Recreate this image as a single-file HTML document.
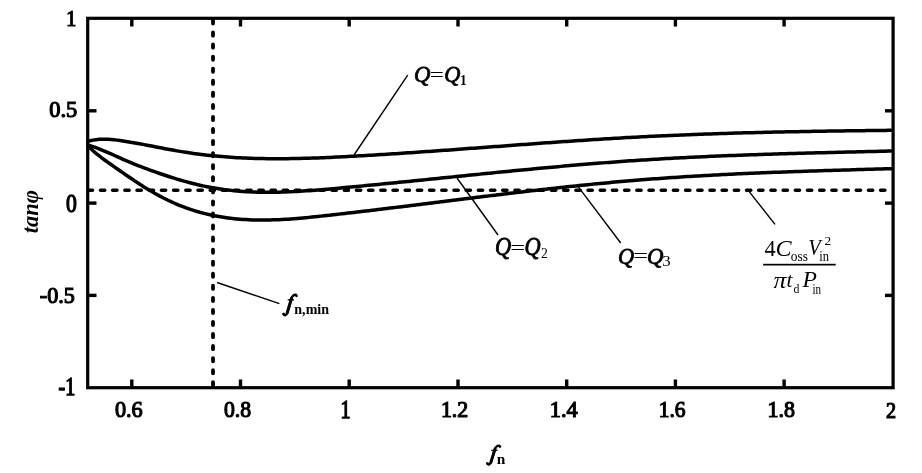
<!DOCTYPE html>
<html><head><meta charset="utf-8"><style>
html,body{margin:0;padding:0;background:#fff;}
svg{display:block;will-change:transform;}
.c{fill:none;stroke:#000;stroke-width:3.5;stroke-linejoin:round;stroke-linecap:round;}
.t{stroke:#000;stroke-width:3.4;}
.tl{font-family:"Liberation Serif",serif;font-size:25px;fill:#000;font-weight:bold;letter-spacing:-1px;}
.lab{font-family:"Liberation Serif",serif;fill:#000;}
</style></head><body>
<svg width="922" height="473" viewBox="0 0 922 473">
<rect x="0" y="0" width="922" height="473" fill="#fff"/>
<rect x="87.7" y="18.3" width="805.4" height="369.4" fill="none" stroke="#000" stroke-width="3.2"/>
<line x1="131.8" y1="19" x2="131.8" y2="26.5" class="t"/><line x1="131.8" y1="387" x2="131.8" y2="379.5" class="t"/><line x1="240.5" y1="19" x2="240.5" y2="26.5" class="t"/><line x1="240.5" y1="387" x2="240.5" y2="379.5" class="t"/><line x1="349.2" y1="19" x2="349.2" y2="26.5" class="t"/><line x1="349.2" y1="387" x2="349.2" y2="379.5" class="t"/><line x1="458.0" y1="19" x2="458.0" y2="26.5" class="t"/><line x1="458.0" y1="387" x2="458.0" y2="379.5" class="t"/><line x1="566.7" y1="19" x2="566.7" y2="26.5" class="t"/><line x1="566.7" y1="387" x2="566.7" y2="379.5" class="t"/><line x1="675.4" y1="19" x2="675.4" y2="26.5" class="t"/><line x1="675.4" y1="387" x2="675.4" y2="379.5" class="t"/><line x1="784.1" y1="19" x2="784.1" y2="26.5" class="t"/><line x1="784.1" y1="387" x2="784.1" y2="379.5" class="t"/><line x1="88" y1="110.8" x2="96.5" y2="110.8" class="t"/><line x1="893" y1="110.8" x2="885" y2="110.8" class="t"/><line x1="88" y1="203.1" x2="96.5" y2="203.1" class="t"/><line x1="893" y1="203.1" x2="885" y2="203.1" class="t"/><line x1="88" y1="295.4" x2="96.5" y2="295.4" class="t"/><line x1="893" y1="295.4" x2="885" y2="295.4" class="t"/>
<path d="M88.30,190.3h4.2M100.49,190.3h4.2M112.68,190.3h4.2M124.87,190.3h4.2M137.06,190.3h4.2M149.25,190.3h4.2M161.44,190.3h4.2M173.63,190.3h4.2M185.82,190.3h4.2M198.01,190.3h4.2M210.20,190.3h4.2M222.39,190.3h4.2M234.58,190.3h4.2M246.77,190.3h4.2M258.96,190.3h4.2M271.15,190.3h4.2M283.34,190.3h4.2M295.53,190.3h4.2M307.72,190.3h4.2M319.91,190.3h4.2M332.10,190.3h4.2M344.29,190.3h4.2M356.48,190.3h4.2M368.67,190.3h4.2M380.86,190.3h4.2M393.05,190.3h4.2M405.24,190.3h4.2M417.43,190.3h4.2M429.62,190.3h4.2M441.81,190.3h4.2M454.00,190.3h4.2M466.19,190.3h4.2M478.38,190.3h4.2M490.57,190.3h4.2M502.76,190.3h4.2M514.95,190.3h4.2M527.14,190.3h4.2M539.33,190.3h4.2M551.52,190.3h4.2M563.71,190.3h4.2M575.90,190.3h4.2M588.09,190.3h4.2M600.28,190.3h4.2M612.47,190.3h4.2M624.66,190.3h4.2M636.85,190.3h4.2M649.04,190.3h4.2M661.23,190.3h4.2M673.42,190.3h4.2M685.61,190.3h4.2M697.80,190.3h4.2M709.99,190.3h4.2M722.18,190.3h4.2M734.37,190.3h4.2M746.56,190.3h4.2M758.75,190.3h4.2M770.94,190.3h4.2M783.13,190.3h4.2M795.32,190.3h4.2M807.51,190.3h4.2M819.70,190.3h4.2M831.89,190.3h4.2M844.08,190.3h4.2M856.27,190.3h4.2M868.46,190.3h4.2M880.65,190.3h4.2" stroke="#000" stroke-width="3.6" stroke-linecap="round"/>
<path d="M213,20.40v3.2M213,32.46v3.2M213,44.52v3.2M213,56.58v3.2M213,68.64v3.2M213,80.70v3.2M213,92.76v3.2M213,104.82v3.2M213,116.88v3.2M213,128.94v3.2M213,141.00v3.2M213,153.06v3.2M213,165.12v3.2M213,177.18v3.2M213,189.24v3.2M213,201.30v3.2M213,213.36v3.2M213,225.42v3.2M213,237.48v3.2M213,249.54v3.2M213,261.60v3.2M213,273.66v3.2M213,285.72v3.2M213,297.78v3.2M213,309.84v3.2M213,321.90v3.2M213,333.96v3.2M213,346.02v3.2M213,358.08v3.2M213,370.14v3.2M213,382.20v3.2" stroke="#000" stroke-width="3.8" stroke-linecap="round"/>
<path d="M88.0,141.33 L90.0,140.79 L93.0,140.13 L96.0,139.66 L99.0,139.36 L102.0,139.21 L105.0,139.19 L108.0,139.28 L111.0,139.48 L114.0,139.77 L117.0,140.12 L120.0,140.52 L123.0,140.96 L126.0,141.43 L129.0,141.92 L132.0,142.43 L135.0,142.95 L138.0,143.49 L141.0,144.05 L144.0,144.61 L147.0,145.18 L150.0,145.76 L153.0,146.34 L156.0,146.93 L159.0,147.51 L162.0,148.09 L165.0,148.67 L168.0,149.23 L171.0,149.79 L174.0,150.34 L177.0,150.87 L180.0,151.38 L183.0,151.88 L186.0,152.35 L189.0,152.81 L192.0,153.25 L195.0,153.66 L198.0,154.06 L201.0,154.44 L204.0,154.80 L207.0,155.14 L210.0,155.46 L213.0,155.77 L216.0,156.06 L219.0,156.33 L222.0,156.59 L225.0,156.83 L228.0,157.05 L231.0,157.26 L234.0,157.45 L237.0,157.63 L240.0,157.79 L243.0,157.94 L246.0,158.07 L249.0,158.19 L252.0,158.30 L255.0,158.39 L258.0,158.47 L261.0,158.54 L264.0,158.60 L267.0,158.64 L270.0,158.68 L273.0,158.70 L276.0,158.71 L279.0,158.71 L282.0,158.70 L285.0,158.68 L288.0,158.65 L291.0,158.61 L294.0,158.56 L297.0,158.50 L300.0,158.44 L303.0,158.37 L306.0,158.28 L309.0,158.19 L312.0,158.10 L315.0,158.00 L318.0,157.89 L321.0,157.77 L324.0,157.65 L327.0,157.52 L330.0,157.39 L333.0,157.25 L336.0,157.11 L339.0,156.96 L342.0,156.81 L345.0,156.66 L348.0,156.50 L351.0,156.34 L354.0,156.17 L357.0,156.01 L360.0,155.84 L363.0,155.67 L366.0,155.49 L369.0,155.32 L372.0,155.14 L375.0,154.96 L378.0,154.78 L381.0,154.59 L384.0,154.41 L387.0,154.22 L390.0,154.03 L393.0,153.83 L396.0,153.64 L399.0,153.45 L402.0,153.25 L405.0,153.05 L408.0,152.85 L411.0,152.65 L414.0,152.44 L417.0,152.24 L420.0,152.03 L423.0,151.83 L426.0,151.62 L429.0,151.41 L432.0,151.20 L435.0,150.98 L438.0,150.77 L441.0,150.56 L444.0,150.34 L447.0,150.13 L450.0,149.91 L453.0,149.69 L456.0,149.47 L459.0,149.25 L462.0,149.04 L465.0,148.82 L468.0,148.59 L471.0,148.37 L474.0,148.15 L477.0,147.93 L480.0,147.71 L483.0,147.49 L486.0,147.26 L489.0,147.04 L492.0,146.82 L495.0,146.60 L498.0,146.38 L501.0,146.15 L504.0,145.93 L507.0,145.71 L510.0,145.49 L513.0,145.27 L516.0,145.04 L519.0,144.82 L522.0,144.60 L525.0,144.38 L528.0,144.17 L531.0,143.95 L534.0,143.73 L537.0,143.51 L540.0,143.30 L543.0,143.08 L546.0,142.87 L549.0,142.65 L552.0,142.44 L555.0,142.23 L558.0,142.02 L561.0,141.81 L564.0,141.60 L567.0,141.40 L570.0,141.19 L573.0,140.99 L576.0,140.79 L579.0,140.59 L582.0,140.39 L585.0,140.19 L588.0,139.99 L591.0,139.80 L594.0,139.61 L597.0,139.42 L600.0,139.23 L603.0,139.04 L606.0,138.86 L609.0,138.67 L612.0,138.49 L615.0,138.31 L618.0,138.14 L621.0,137.96 L624.0,137.79 L627.0,137.62 L630.0,137.46 L633.0,137.29 L636.0,137.13 L639.0,136.97 L642.0,136.81 L645.0,136.66 L648.0,136.51 L651.0,136.36 L654.0,136.21 L657.0,136.07 L660.0,135.93 L663.0,135.79 L666.0,135.65 L669.0,135.52 L672.0,135.38 L675.0,135.26 L678.0,135.13 L681.0,135.00 L684.0,134.88 L687.0,134.76 L690.0,134.64 L693.0,134.53 L696.0,134.41 L699.0,134.30 L702.0,134.19 L705.0,134.09 L708.0,133.98 L711.0,133.88 L714.0,133.78 L717.0,133.68 L720.0,133.58 L723.0,133.48 L726.0,133.39 L729.0,133.30 L732.0,133.21 L735.0,133.12 L738.0,133.03 L741.0,132.95 L744.0,132.87 L747.0,132.78 L750.0,132.70 L753.0,132.63 L756.0,132.55 L759.0,132.48 L762.0,132.40 L765.0,132.33 L768.0,132.26 L771.0,132.19 L774.0,132.12 L777.0,132.06 L780.0,131.99 L783.0,131.93 L786.0,131.87 L789.0,131.81 L792.0,131.75 L795.0,131.69 L798.0,131.63 L801.0,131.58 L804.0,131.52 L807.0,131.47 L810.0,131.42 L813.0,131.36 L816.0,131.31 L819.0,131.27 L822.0,131.22 L825.0,131.17 L828.0,131.12 L831.0,131.08 L834.0,131.03 L837.0,130.99 L840.0,130.95 L843.0,130.90 L846.0,130.86 L849.0,130.82 L852.0,130.78 L855.0,130.74 L858.0,130.70 L861.0,130.67 L864.0,130.63 L867.0,130.59 L870.0,130.55 L873.0,130.52 L876.0,130.48 L879.0,130.45 L882.0,130.41 L885.0,130.38 L888.0,130.35 L891.0,130.31" class="c"/><path d="M88.0,145.03 L90.0,145.65 L93.0,146.65 L96.0,147.72 L99.0,148.86 L102.0,150.05 L105.0,151.29 L108.0,152.57 L111.0,153.89 L114.0,155.23 L117.0,156.58 L120.0,157.94 L123.0,159.29 L126.0,160.62 L129.0,161.92 L132.0,163.18 L135.0,164.40 L138.0,165.58 L141.0,166.73 L144.0,167.85 L147.0,168.95 L150.0,170.04 L153.0,171.12 L156.0,172.18 L159.0,173.23 L162.0,174.25 L165.0,175.26 L168.0,176.25 L171.0,177.22 L174.0,178.16 L177.0,179.08 L180.0,179.98 L183.0,180.84 L186.0,181.69 L189.0,182.50 L192.0,183.28 L195.0,184.04 L198.0,184.76 L201.0,185.44 L204.0,186.10 L207.0,186.71 L210.0,187.30 L213.0,187.84 L216.0,188.35 L219.0,188.82 L222.0,189.26 L225.0,189.66 L228.0,190.04 L231.0,190.38 L234.0,190.69 L237.0,190.96 L240.0,191.21 L243.0,191.43 L246.0,191.63 L249.0,191.79 L252.0,191.93 L255.0,192.05 L258.0,192.13 L261.0,192.20 L264.0,192.24 L267.0,192.26 L270.0,192.26 L273.0,192.24 L276.0,192.20 L279.0,192.13 L282.0,192.05 L285.0,191.96 L288.0,191.84 L291.0,191.71 L294.0,191.57 L297.0,191.41 L300.0,191.24 L303.0,191.05 L306.0,190.86 L309.0,190.65 L312.0,190.43 L315.0,190.20 L318.0,189.97 L321.0,189.72 L324.0,189.47 L327.0,189.21 L330.0,188.95 L333.0,188.68 L336.0,188.41 L339.0,188.14 L342.0,187.86 L345.0,187.58 L348.0,187.30 L351.0,187.02 L354.0,186.74 L357.0,186.45 L360.0,186.17 L363.0,185.88 L366.0,185.59 L369.0,185.30 L372.0,185.01 L375.0,184.72 L378.0,184.42 L381.0,184.13 L384.0,183.83 L387.0,183.54 L390.0,183.24 L393.0,182.94 L396.0,182.64 L399.0,182.34 L402.0,182.04 L405.0,181.74 L408.0,181.44 L411.0,181.14 L414.0,180.83 L417.0,180.53 L420.0,180.23 L423.0,179.92 L426.0,179.62 L429.0,179.31 L432.0,179.01 L435.0,178.70 L438.0,178.40 L441.0,178.09 L444.0,177.78 L447.0,177.48 L450.0,177.17 L453.0,176.87 L456.0,176.56 L459.0,176.26 L462.0,175.95 L465.0,175.65 L468.0,175.34 L471.0,175.04 L474.0,174.74 L477.0,174.44 L480.0,174.13 L483.0,173.83 L486.0,173.53 L489.0,173.23 L492.0,172.93 L495.0,172.63 L498.0,172.34 L501.0,172.04 L504.0,171.74 L507.0,171.45 L510.0,171.16 L513.0,170.86 L516.0,170.57 L519.0,170.28 L522.0,169.99 L525.0,169.71 L528.0,169.42 L531.0,169.14 L534.0,168.85 L537.0,168.57 L540.0,168.29 L543.0,168.01 L546.0,167.74 L549.0,167.46 L552.0,167.19 L555.0,166.92 L558.0,166.65 L561.0,166.38 L564.0,166.11 L567.0,165.85 L570.0,165.59 L573.0,165.33 L576.0,165.07 L579.0,164.82 L582.0,164.57 L585.0,164.32 L588.0,164.07 L591.0,163.82 L594.0,163.58 L597.0,163.34 L600.0,163.10 L603.0,162.87 L606.0,162.63 L609.0,162.40 L612.0,162.18 L615.0,161.95 L618.0,161.73 L621.0,161.51 L624.0,161.30 L627.0,161.08 L630.0,160.87 L633.0,160.67 L636.0,160.47 L639.0,160.27 L642.0,160.07 L645.0,159.88 L648.0,159.69 L651.0,159.50 L654.0,159.32 L657.0,159.14 L660.0,158.96 L663.0,158.78 L666.0,158.61 L669.0,158.44 L672.0,158.28 L675.0,158.11 L678.0,157.95 L681.0,157.80 L684.0,157.64 L687.0,157.49 L690.0,157.34 L693.0,157.19 L696.0,157.05 L699.0,156.91 L702.0,156.77 L705.0,156.63 L708.0,156.50 L711.0,156.37 L714.0,156.24 L717.0,156.11 L720.0,155.98 L723.0,155.86 L726.0,155.74 L729.0,155.62 L732.0,155.50 L735.0,155.39 L738.0,155.27 L741.0,155.16 L744.0,155.05 L747.0,154.94 L750.0,154.84 L753.0,154.73 L756.0,154.63 L759.0,154.53 L762.0,154.43 L765.0,154.33 L768.0,154.24 L771.0,154.14 L774.0,154.05 L777.0,153.96 L780.0,153.86 L783.0,153.78 L786.0,153.69 L789.0,153.60 L792.0,153.51 L795.0,153.43 L798.0,153.34 L801.0,153.26 L804.0,153.18 L807.0,153.10 L810.0,153.02 L813.0,152.94 L816.0,152.86 L819.0,152.78 L822.0,152.71 L825.0,152.63 L828.0,152.56 L831.0,152.48 L834.0,152.41 L837.0,152.33 L840.0,152.26 L843.0,152.19 L846.0,152.11 L849.0,152.04 L852.0,151.97 L855.0,151.90 L858.0,151.82 L861.0,151.75 L864.0,151.68 L867.0,151.61 L870.0,151.54 L873.0,151.47 L876.0,151.40 L879.0,151.32 L882.0,151.25 L885.0,151.18 L888.0,151.11 L891.0,151.04" class="c"/><path d="M88.0,146.14 L90.0,148.05 L93.0,150.76 L96.0,153.31 L99.0,155.73 L102.0,158.03 L105.0,160.25 L108.0,162.40 L111.0,164.51 L114.0,166.61 L117.0,168.71 L120.0,170.80 L123.0,172.89 L126.0,174.97 L129.0,177.03 L132.0,179.07 L135.0,181.08 L138.0,183.06 L141.0,185.01 L144.0,186.91 L147.0,188.76 L150.0,190.56 L153.0,192.31 L156.0,194.00 L159.0,195.64 L162.0,197.23 L165.0,198.76 L168.0,200.23 L171.0,201.64 L174.0,203.00 L177.0,204.29 L180.0,205.53 L183.0,206.71 L186.0,207.83 L189.0,208.89 L192.0,209.89 L195.0,210.84 L198.0,211.73 L201.0,212.57 L204.0,213.36 L207.0,214.10 L210.0,214.79 L213.0,215.43 L216.0,216.02 L219.0,216.57 L222.0,217.07 L225.0,217.53 L228.0,217.95 L231.0,218.32 L234.0,218.65 L237.0,218.95 L240.0,219.21 L243.0,219.43 L246.0,219.61 L249.0,219.76 L252.0,219.88 L255.0,219.96 L258.0,220.02 L261.0,220.04 L264.0,220.04 L267.0,220.01 L270.0,219.95 L273.0,219.87 L276.0,219.77 L279.0,219.64 L282.0,219.49 L285.0,219.32 L288.0,219.13 L291.0,218.92 L294.0,218.70 L297.0,218.46 L300.0,218.21 L303.0,217.94 L306.0,217.66 L309.0,217.37 L312.0,217.07 L315.0,216.76 L318.0,216.45 L321.0,216.13 L324.0,215.80 L327.0,215.47 L330.0,215.14 L333.0,214.81 L336.0,214.47 L339.0,214.13 L342.0,213.79 L345.0,213.45 L348.0,213.10 L351.0,212.75 L354.0,212.41 L357.0,212.06 L360.0,211.70 L363.0,211.35 L366.0,211.00 L369.0,210.64 L372.0,210.28 L375.0,209.92 L378.0,209.56 L381.0,209.20 L384.0,208.84 L387.0,208.48 L390.0,208.11 L393.0,207.74 L396.0,207.38 L399.0,207.01 L402.0,206.64 L405.0,206.27 L408.0,205.90 L411.0,205.53 L414.0,205.16 L417.0,204.79 L420.0,204.42 L423.0,204.04 L426.0,203.67 L429.0,203.30 L432.0,202.92 L435.0,202.55 L438.0,202.18 L441.0,201.80 L444.0,201.43 L447.0,201.06 L450.0,200.68 L453.0,200.31 L456.0,199.94 L459.0,199.56 L462.0,199.19 L465.0,198.82 L468.0,198.45 L471.0,198.08 L474.0,197.71 L477.0,197.34 L480.0,196.97 L483.0,196.60 L486.0,196.23 L489.0,195.87 L492.0,195.50 L495.0,195.14 L498.0,194.77 L501.0,194.41 L504.0,194.05 L507.0,193.69 L510.0,193.33 L513.0,192.98 L516.0,192.62 L519.0,192.27 L522.0,191.91 L525.0,191.56 L528.0,191.21 L531.0,190.87 L534.0,190.52 L537.0,190.18 L540.0,189.84 L543.0,189.50 L546.0,189.16 L549.0,188.82 L552.0,188.49 L555.0,188.16 L558.0,187.83 L561.0,187.50 L564.0,187.18 L567.0,186.86 L570.0,186.54 L573.0,186.22 L576.0,185.91 L579.0,185.59 L582.0,185.29 L585.0,184.98 L588.0,184.68 L591.0,184.38 L594.0,184.08 L597.0,183.79 L600.0,183.50 L603.0,183.21 L606.0,182.92 L609.0,182.64 L612.0,182.36 L615.0,182.09 L618.0,181.82 L621.0,181.55 L624.0,181.29 L627.0,181.03 L630.0,180.77 L633.0,180.52 L636.0,180.27 L639.0,180.02 L642.0,179.78 L645.0,179.55 L648.0,179.31 L651.0,179.08 L654.0,178.86 L657.0,178.64 L660.0,178.42 L663.0,178.20 L666.0,177.99 L669.0,177.78 L672.0,177.58 L675.0,177.38 L678.0,177.18 L681.0,176.99 L684.0,176.80 L687.0,176.61 L690.0,176.43 L693.0,176.25 L696.0,176.07 L699.0,175.89 L702.0,175.72 L705.0,175.55 L708.0,175.39 L711.0,175.22 L714.0,175.06 L717.0,174.90 L720.0,174.75 L723.0,174.60 L726.0,174.45 L729.0,174.30 L732.0,174.15 L735.0,174.01 L738.0,173.87 L741.0,173.73 L744.0,173.60 L747.0,173.46 L750.0,173.33 L753.0,173.20 L756.0,173.08 L759.0,172.95 L762.0,172.83 L765.0,172.71 L768.0,172.59 L771.0,172.47 L774.0,172.35 L777.0,172.24 L780.0,172.13 L783.0,172.02 L786.0,171.91 L789.0,171.80 L792.0,171.69 L795.0,171.59 L798.0,171.48 L801.0,171.38 L804.0,171.28 L807.0,171.18 L810.0,171.08 L813.0,170.99 L816.0,170.89 L819.0,170.79 L822.0,170.70 L825.0,170.61 L828.0,170.51 L831.0,170.42 L834.0,170.33 L837.0,170.24 L840.0,170.15 L843.0,170.06 L846.0,169.97 L849.0,169.88 L852.0,169.80 L855.0,169.71 L858.0,169.62 L861.0,169.54 L864.0,169.45 L867.0,169.36 L870.0,169.28 L873.0,169.19 L876.0,169.11 L879.0,169.02 L882.0,168.93 L885.0,168.85 L888.0,168.76 L891.0,168.68" class="c"/>
<line x1="354" y1="155" x2="407.7" y2="75.2" stroke="#000" stroke-width="1.4"/>
<line x1="457" y1="178" x2="498" y2="235" stroke="#000" stroke-width="1.4"/>
<line x1="577.4" y1="185.6" x2="620.7" y2="243" stroke="#000" stroke-width="1.4"/>
<line x1="749" y1="191.4" x2="775" y2="224.4" stroke="#000" stroke-width="1.4"/>
<line x1="217" y1="282.5" x2="279.4" y2="303.7" stroke="#000" stroke-width="1.4"/>
<g class="lab">
<text transform="matrix(0.8903,0,0,0.9315,114.88,417.37)" font-size="25" stroke="#000" stroke-width="1.3">0.6</text>
<text transform="matrix(0.8683,0,0,0.9315,223.98,417.37)" font-size="25" stroke="#000" stroke-width="1.3">0.8</text>
<text transform="matrix(0.8000,0,0,0.9714,340.40,417.81)" font-size="25" stroke="#000" stroke-width="1.3">1</text>
<text transform="matrix(0.8759,0,0,0.9315,440.89,417.37)" font-size="25" stroke="#000" stroke-width="1.3">1.2</text>
<text transform="matrix(0.8933,0,0,0.9444,549.76,417.36)" font-size="25" stroke="#000" stroke-width="1.3">1.4</text>
<text transform="matrix(0.8571,0,0,0.9315,658.71,417.37)" font-size="25" stroke="#000" stroke-width="1.3">1.6</text>
<text transform="matrix(0.8780,0,0,0.9315,767.48,417.37)" font-size="25" stroke="#000" stroke-width="1.3">1.8</text>
<text transform="matrix(0.8089,0,0,0.9577,886.00,417.82)" font-size="25" stroke="#000" stroke-width="1.3">2</text>
<text transform="matrix(0.8000,0,0,0.9543,66.20,26.22)" font-size="25" stroke="#000" stroke-width="1.3">1</text>
<text transform="matrix(0.8976,0,0,0.9260,49.18,117.37)" font-size="25" stroke="#000" stroke-width="1.3">0.5</text>
<text transform="matrix(0.8667,0,0,0.9667,66.08,211.78)" font-size="25" stroke="#000" stroke-width="1.3">0</text>
<text transform="matrix(0.8846,0,0,0.9425,39.78,302.86)" font-size="25" stroke="#000" stroke-width="1.3">-0.5</text>
<text transform="matrix(0.8000,0,0,0.9829,58.60,395.01)" font-size="25" stroke="#000" stroke-width="1.3">-1</text>
<text transform="matrix(0.9871,0,0,1.0154,413.91,81.64)" font-size="23" font-style="italic" stroke="#000" stroke-width="0.8">Q</text>
<text transform="matrix(1.0857,0,0,0.8522,429.74,80.65)" font-size="23">=</text>
<text transform="matrix(0.9677,0,0,1.0154,444.13,81.64)" font-size="23" font-style="italic" stroke="#000" stroke-width="0.8">Q</text>
<text transform="matrix(1.0316,0,0,1.1059,460.07,84.70)" font-size="13" font-weight="bold">1</text>
<text transform="matrix(0.9677,0,0,1.0513,494.93,255.49)" font-size="23" font-style="italic" stroke="#000" stroke-width="0.8">Q</text>
<text transform="matrix(1.1524,0,0,0.8348,510.36,253.57)" font-size="23">=</text>
<text transform="matrix(0.9677,0,0,1.0513,524.53,255.49)" font-size="23" font-style="italic" stroke="#000" stroke-width="0.8">Q</text>
<text transform="matrix(1.0476,0,0,1.1529,540.98,257.80)" font-size="13">2</text>
<text transform="matrix(0.9677,0,0,1.0359,617.93,263.96)" font-size="23" font-style="italic" stroke="#000" stroke-width="0.8">Q</text>
<text transform="matrix(1.1524,0,0,0.8348,633.36,261.57)" font-size="23">=</text>
<text transform="matrix(0.9871,0,0,1.0359,646.91,263.96)" font-size="23" font-style="italic" stroke="#000" stroke-width="0.8">Q</text>
<text transform="matrix(1.2952,0,0,1.1529,662.23,265.50)" font-size="13">3</text>
<text transform="matrix(1.0059,0,0,1.0250,294.30,314.29)" font-size="14" font-weight="bold">n,min</text>
<text transform="matrix(1.1000,0,0,1.1077,496.75,463.60)" font-size="14" font-weight="bold">n</text>
<text transform="matrix(1.0146,0,0,1.0483,764.39,255.60)" font-size="22">4</text>
<text transform="matrix(1.0963,0,0,1.0847,775.53,255.73)" font-size="22" font-style="italic">C</text>
<text transform="matrix(0.8944,0,0,0.9429,790.85,260.60)" font-size="15">oss</text>
<text transform="matrix(0.9263,0,0,1.0483,808.34,255.34)" font-size="22" font-style="italic">V</text>
<text transform="matrix(1.2000,0,0,1.1310,824.50,245.30)" font-size="11">2</text>
<text transform="matrix(0.8952,0,0,0.9838,819.18,260.60)" font-size="14">in</text>
<text transform="matrix(1.1644,0,0,1.0732,773.61,287.73)" font-size="22" font-style="italic">π</text>
<text transform="matrix(0.9818,0,0,0.9760,786.62,287.16)" font-size="22" font-style="italic">t</text>
<text transform="matrix(0.8480,0,0,0.9538,793.48,293.40)" font-size="14">d</text>
<text transform="matrix(1.0745,0,0,1.0667,802.50,287.40)" font-size="22" font-style="italic">P</text>
<text transform="matrix(0.7905,0,0,1.0703,812.50,293.70)" font-size="14">in</text>
<g transform="translate(485.9,445) scale(1,1)"><path d="M1.3,18.4 C2.4,20.3 4.4,19.9 5.3,16.6 L8.9,4.6 C9.7,1.9 11.5,0.5 13.4,0.6" fill="none" stroke="#000" stroke-width="2.2" stroke-linecap="round"/><path d="M4.9,17.5 L9.2,3.8" fill="none" stroke="#000" stroke-width="2.9" stroke-linecap="round"/><circle cx="1.6" cy="18.6" r="1.3"/><circle cx="14" cy="1.6" r="1.3"/><path d="M5.4,5.3 H11.6" stroke="#000" stroke-width="1.2"/></g>
<g transform="translate(282.1,294.1) scale(1.03,1.08)"><path d="M1.3,18.4 C2.4,20.3 4.4,19.9 5.3,16.6 L8.9,4.6 C9.7,1.9 11.5,0.5 13.4,0.6" fill="none" stroke="#000" stroke-width="2.2" stroke-linecap="round"/><path d="M4.9,17.5 L9.2,3.8" fill="none" stroke="#000" stroke-width="2.9" stroke-linecap="round"/><circle cx="1.6" cy="18.6" r="1.3"/><circle cx="14" cy="1.6" r="1.3"/><path d="M5.4,5.3 H11.6" stroke="#000" stroke-width="1.2"/></g>
<rect x="763.1" y="263.8" width="72.6" height="1.7" fill="#000"/>
<text transform="translate(37.80,233.27) rotate(-90) scale(1.0233,1.0529)" font-size="22" font-weight="bold" font-style="italic">tanφ</text>
</g>
</svg>
</body></html>
